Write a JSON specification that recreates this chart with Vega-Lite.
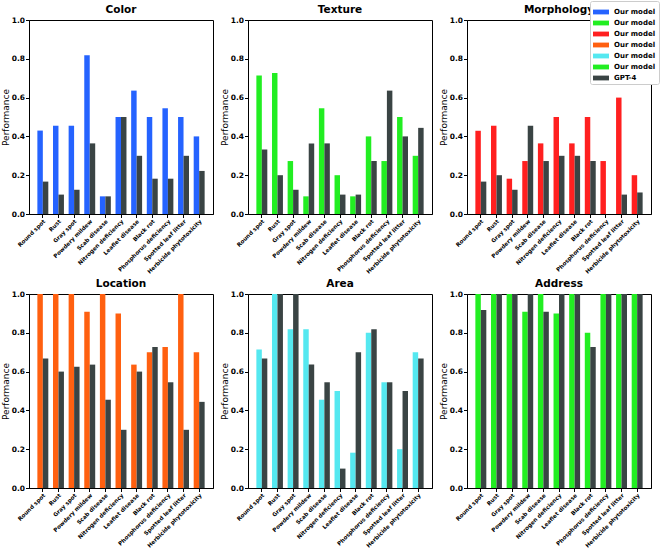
{
  "$schema": "https://vega.github.io/schema/vega-lite/v6.json",
  "padding": 0,
  "bounds": "flush",
  "columns": 3,
  "spacing": {"row": 80, "column": 35},
  "background": "white",
  "config": {
    "font": "DejaVu Sans",
    "view": {"stroke": "black", "strokeWidth": 1},
    "axis": {"grid": false, "domainColor": "black", "tickColor": "black", "labelColor": "black", "titleColor": "black", "labelFont": "DejaVu Sans", "titleFont": "DejaVu Sans", "labelFontWeight": "bold", "tickSize": 3.5},
    "axisX": {"labelAngle": -45, "labelAlign": "right", "labelBaseline": "top", "labelFontSize": 5.6, "labelLimit": 200, "labelOverlap": false, "labelPadding": 1},
    "axisY": {"values": [0, 0.2, 0.4, 0.6, 0.8, 1.0], "format": ".1f", "labelFontSize": 7.5, "labelPadding": 1, "titleFontSize": 9, "titleFontWeight": "normal", "titlePadding": 1},
    "title": {"font": "DejaVu Sans", "fontSize": 10.5, "fontWeight": "bold", "offset": 1, "color": "black"}
  },
  "data": {"values": [
    {"p":"Color","d":"Round spot","m":"Our model","s":"Color","v":0.43},
    {"p":"Color","d":"Round spot","m":"GPT-4","s":"GPT-4","v":0.167},
    {"p":"Color","d":"Rust","m":"Our model","s":"Color","v":0.455},
    {"p":"Color","d":"Rust","m":"GPT-4","s":"GPT-4","v":0.1},
    {"p":"Color","d":"Gray spot","m":"Our model","s":"Color","v":0.455},
    {"p":"Color","d":"Gray spot","m":"GPT-4","s":"GPT-4","v":0.125},
    {"p":"Color","d":"Powdery mildew","m":"Our model","s":"Color","v":0.818},
    {"p":"Color","d":"Powdery mildew","m":"GPT-4","s":"GPT-4","v":0.364},
    {"p":"Color","d":"Scab disease","m":"Our model","s":"Color","v":0.091},
    {"p":"Color","d":"Scab disease","m":"GPT-4","s":"GPT-4","v":0.091},
    {"p":"Color","d":"Nitrogen deficiency","m":"Our model","s":"Color","v":0.5},
    {"p":"Color","d":"Nitrogen deficiency","m":"GPT-4","s":"GPT-4","v":0.5},
    {"p":"Color","d":"Leaflet disease","m":"Our model","s":"Color","v":0.636},
    {"p":"Color","d":"Leaflet disease","m":"GPT-4","s":"GPT-4","v":0.3},
    {"p":"Color","d":"Black rot","m":"Our model","s":"Color","v":0.5},
    {"p":"Color","d":"Black rot","m":"GPT-4","s":"GPT-4","v":0.182},
    {"p":"Color","d":"Phosphorus deficiency","m":"Our model","s":"Color","v":0.545},
    {"p":"Color","d":"Phosphorus deficiency","m":"GPT-4","s":"GPT-4","v":0.182},
    {"p":"Color","d":"Spotted leaf litter","m":"Our model","s":"Color","v":0.5},
    {"p":"Color","d":"Spotted leaf litter","m":"GPT-4","s":"GPT-4","v":0.3},
    {"p":"Color","d":"Herbicide phytotoxicity","m":"Our model","s":"Color","v":0.4},
    {"p":"Color","d":"Herbicide phytotoxicity","m":"GPT-4","s":"GPT-4","v":0.222},

    {"p":"Texture","d":"Round spot","m":"Our model","s":"Texture","v":0.714},
    {"p":"Texture","d":"Round spot","m":"GPT-4","s":"GPT-4","v":0.333},
    {"p":"Texture","d":"Rust","m":"Our model","s":"Texture","v":0.727},
    {"p":"Texture","d":"Rust","m":"GPT-4","s":"GPT-4","v":0.2},
    {"p":"Texture","d":"Gray spot","m":"Our model","s":"Texture","v":0.273},
    {"p":"Texture","d":"Gray spot","m":"GPT-4","s":"GPT-4","v":0.125},
    {"p":"Texture","d":"Powdery mildew","m":"Our model","s":"Texture","v":0.091},
    {"p":"Texture","d":"Powdery mildew","m":"GPT-4","s":"GPT-4","v":0.364},
    {"p":"Texture","d":"Scab disease","m":"Our model","s":"Texture","v":0.545},
    {"p":"Texture","d":"Scab disease","m":"GPT-4","s":"GPT-4","v":0.364},
    {"p":"Texture","d":"Nitrogen deficiency","m":"Our model","s":"Texture","v":0.2},
    {"p":"Texture","d":"Nitrogen deficiency","m":"GPT-4","s":"GPT-4","v":0.1},
    {"p":"Texture","d":"Leaflet disease","m":"Our model","s":"Texture","v":0.091},
    {"p":"Texture","d":"Leaflet disease","m":"GPT-4","s":"GPT-4","v":0.1},
    {"p":"Texture","d":"Black rot","m":"Our model","s":"Texture","v":0.4},
    {"p":"Texture","d":"Black rot","m":"GPT-4","s":"GPT-4","v":0.273},
    {"p":"Texture","d":"Phosphorus deficiency","m":"Our model","s":"Texture","v":0.273},
    {"p":"Texture","d":"Phosphorus deficiency","m":"GPT-4","s":"GPT-4","v":0.636},
    {"p":"Texture","d":"Spotted leaf litter","m":"Our model","s":"Texture","v":0.5},
    {"p":"Texture","d":"Spotted leaf litter","m":"GPT-4","s":"GPT-4","v":0.4},
    {"p":"Texture","d":"Herbicide phytotoxicity","m":"Our model","s":"Texture","v":0.3},
    {"p":"Texture","d":"Herbicide phytotoxicity","m":"GPT-4","s":"GPT-4","v":0.444},

    {"p":"Morphology","d":"Round spot","m":"Our model","s":"Morphology","v":0.429},
    {"p":"Morphology","d":"Round spot","m":"GPT-4","s":"GPT-4","v":0.167},
    {"p":"Morphology","d":"Rust","m":"Our model","s":"Morphology","v":0.455},
    {"p":"Morphology","d":"Rust","m":"GPT-4","s":"GPT-4","v":0.2},
    {"p":"Morphology","d":"Gray spot","m":"Our model","s":"Morphology","v":0.182},
    {"p":"Morphology","d":"Gray spot","m":"GPT-4","s":"GPT-4","v":0.125},
    {"p":"Morphology","d":"Powdery mildew","m":"Our model","s":"Morphology","v":0.273},
    {"p":"Morphology","d":"Powdery mildew","m":"GPT-4","s":"GPT-4","v":0.455},
    {"p":"Morphology","d":"Scab disease","m":"Our model","s":"Morphology","v":0.364},
    {"p":"Morphology","d":"Scab disease","m":"GPT-4","s":"GPT-4","v":0.273},
    {"p":"Morphology","d":"Nitrogen deficiency","m":"Our model","s":"Morphology","v":0.5},
    {"p":"Morphology","d":"Nitrogen deficiency","m":"GPT-4","s":"GPT-4","v":0.3},
    {"p":"Morphology","d":"Leaflet disease","m":"Our model","s":"Morphology","v":0.364},
    {"p":"Morphology","d":"Leaflet disease","m":"GPT-4","s":"GPT-4","v":0.3},
    {"p":"Morphology","d":"Black rot","m":"Our model","s":"Morphology","v":0.5},
    {"p":"Morphology","d":"Black rot","m":"GPT-4","s":"GPT-4","v":0.273},
    {"p":"Morphology","d":"Phosphorus deficiency","m":"Our model","s":"Morphology","v":0.273},
    {"p":"Morphology","d":"Phosphorus deficiency","m":"GPT-4","s":"GPT-4","v":0},
    {"p":"Morphology","d":"Spotted leaf litter","m":"Our model","s":"Morphology","v":0.6},
    {"p":"Morphology","d":"Spotted leaf litter","m":"GPT-4","s":"GPT-4","v":0.1},
    {"p":"Morphology","d":"Herbicide phytotoxicity","m":"Our model","s":"Morphology","v":0.2},
    {"p":"Morphology","d":"Herbicide phytotoxicity","m":"GPT-4","s":"GPT-4","v":0.111},

    {"p":"Location","d":"Round spot","m":"Our model","s":"Location","v":1.0},
    {"p":"Location","d":"Round spot","m":"GPT-4","s":"GPT-4","v":0.667},
    {"p":"Location","d":"Rust","m":"Our model","s":"Location","v":1.0},
    {"p":"Location","d":"Rust","m":"GPT-4","s":"GPT-4","v":0.6},
    {"p":"Location","d":"Gray spot","m":"Our model","s":"Location","v":1.0},
    {"p":"Location","d":"Gray spot","m":"GPT-4","s":"GPT-4","v":0.625},
    {"p":"Location","d":"Powdery mildew","m":"Our model","s":"Location","v":0.909},
    {"p":"Location","d":"Powdery mildew","m":"GPT-4","s":"GPT-4","v":0.636},
    {"p":"Location","d":"Scab disease","m":"Our model","s":"Location","v":1.0},
    {"p":"Location","d":"Scab disease","m":"GPT-4","s":"GPT-4","v":0.455},
    {"p":"Location","d":"Nitrogen deficiency","m":"Our model","s":"Location","v":0.9},
    {"p":"Location","d":"Nitrogen deficiency","m":"GPT-4","s":"GPT-4","v":0.3},
    {"p":"Location","d":"Leaflet disease","m":"Our model","s":"Location","v":0.636},
    {"p":"Location","d":"Leaflet disease","m":"GPT-4","s":"GPT-4","v":0.6},
    {"p":"Location","d":"Black rot","m":"Our model","s":"Location","v":0.7},
    {"p":"Location","d":"Black rot","m":"GPT-4","s":"GPT-4","v":0.727},
    {"p":"Location","d":"Phosphorus deficiency","m":"Our model","s":"Location","v":0.727},
    {"p":"Location","d":"Phosphorus deficiency","m":"GPT-4","s":"GPT-4","v":0.545},
    {"p":"Location","d":"Spotted leaf litter","m":"Our model","s":"Location","v":1.0},
    {"p":"Location","d":"Spotted leaf litter","m":"GPT-4","s":"GPT-4","v":0.3},
    {"p":"Location","d":"Herbicide phytotoxicity","m":"Our model","s":"Location","v":0.7},
    {"p":"Location","d":"Herbicide phytotoxicity","m":"GPT-4","s":"GPT-4","v":0.444},

    {"p":"Area","d":"Round spot","m":"Our model","s":"Area","v":0.714},
    {"p":"Area","d":"Round spot","m":"GPT-4","s":"GPT-4","v":0.667},
    {"p":"Area","d":"Rust","m":"Our model","s":"Area","v":1.0},
    {"p":"Area","d":"Rust","m":"GPT-4","s":"GPT-4","v":1.0},
    {"p":"Area","d":"Gray spot","m":"Our model","s":"Area","v":0.818},
    {"p":"Area","d":"Gray spot","m":"GPT-4","s":"GPT-4","v":1.0},
    {"p":"Area","d":"Powdery mildew","m":"Our model","s":"Area","v":0.818},
    {"p":"Area","d":"Powdery mildew","m":"GPT-4","s":"GPT-4","v":0.636},
    {"p":"Area","d":"Scab disease","m":"Our model","s":"Area","v":0.455},
    {"p":"Area","d":"Scab disease","m":"GPT-4","s":"GPT-4","v":0.545},
    {"p":"Area","d":"Nitrogen deficiency","m":"Our model","s":"Area","v":0.5},
    {"p":"Area","d":"Nitrogen deficiency","m":"GPT-4","s":"GPT-4","v":0.1},
    {"p":"Area","d":"Leaflet disease","m":"Our model","s":"Area","v":0.182},
    {"p":"Area","d":"Leaflet disease","m":"GPT-4","s":"GPT-4","v":0.7},
    {"p":"Area","d":"Black rot","m":"Our model","s":"Area","v":0.8},
    {"p":"Area","d":"Black rot","m":"GPT-4","s":"GPT-4","v":0.818},
    {"p":"Area","d":"Phosphorus deficiency","m":"Our model","s":"Area","v":0.545},
    {"p":"Area","d":"Phosphorus deficiency","m":"GPT-4","s":"GPT-4","v":0.545},
    {"p":"Area","d":"Spotted leaf litter","m":"Our model","s":"Area","v":0.2},
    {"p":"Area","d":"Spotted leaf litter","m":"GPT-4","s":"GPT-4","v":0.5},
    {"p":"Area","d":"Herbicide phytotoxicity","m":"Our model","s":"Area","v":0.7},
    {"p":"Area","d":"Herbicide phytotoxicity","m":"GPT-4","s":"GPT-4","v":0.667},

    {"p":"Address","d":"Round spot","m":"Our model","s":"Address","v":1.0},
    {"p":"Address","d":"Round spot","m":"GPT-4","s":"GPT-4","v":0.917},
    {"p":"Address","d":"Rust","m":"Our model","s":"Address","v":1.0},
    {"p":"Address","d":"Rust","m":"GPT-4","s":"GPT-4","v":1.0},
    {"p":"Address","d":"Gray spot","m":"Our model","s":"Address","v":1.0},
    {"p":"Address","d":"Gray spot","m":"GPT-4","s":"GPT-4","v":1.0},
    {"p":"Address","d":"Powdery mildew","m":"Our model","s":"Address","v":0.909},
    {"p":"Address","d":"Powdery mildew","m":"GPT-4","s":"GPT-4","v":1.0},
    {"p":"Address","d":"Scab disease","m":"Our model","s":"Address","v":1.0},
    {"p":"Address","d":"Scab disease","m":"GPT-4","s":"GPT-4","v":0.909},
    {"p":"Address","d":"Nitrogen deficiency","m":"Our model","s":"Address","v":0.9},
    {"p":"Address","d":"Nitrogen deficiency","m":"GPT-4","s":"GPT-4","v":1.0},
    {"p":"Address","d":"Leaflet disease","m":"Our model","s":"Address","v":1.0},
    {"p":"Address","d":"Leaflet disease","m":"GPT-4","s":"GPT-4","v":1.0},
    {"p":"Address","d":"Black rot","m":"Our model","s":"Address","v":0.8},
    {"p":"Address","d":"Black rot","m":"GPT-4","s":"GPT-4","v":0.727},
    {"p":"Address","d":"Phosphorus deficiency","m":"Our model","s":"Address","v":1.0},
    {"p":"Address","d":"Phosphorus deficiency","m":"GPT-4","s":"GPT-4","v":1.0},
    {"p":"Address","d":"Spotted leaf litter","m":"Our model","s":"Address","v":1.0},
    {"p":"Address","d":"Spotted leaf litter","m":"GPT-4","s":"GPT-4","v":1.0},
    {"p":"Address","d":"Herbicide phytotoxicity","m":"Our model","s":"Address","v":1.0},
    {"p":"Address","d":"Herbicide phytotoxicity","m":"GPT-4","s":"GPT-4","v":1.0}
  ]},
  "concat": [
      {"title": "Color", "width": 184, "height": 194, "transform": [{"filter": "datum.p == 'Color'"}], "mark": {"type": "bar"},
       "encoding": {
        "x": {"field": "d", "type": "nominal", "sort": null, "title": null, "scale": {"paddingInner": 0.3, "paddingOuter": 0.535}},
        "xOffset": {"field": "m", "type": "nominal", "sort": ["Our model", "GPT-4"], "scale": {"paddingInner": 0, "paddingOuter": 0}},
        "y": {"field": "v", "type": "quantitative", "title": "Performance", "scale": {"domain": [0, 1], "nice": false}},
        "color": {"field": "s", "type": "nominal", "scale": {"domain": ["Color", "Texture", "Morphology", "Location", "Area", "Address", "GPT-4"], "range": ["#2563ff", "#22ee22", "#ff2020", "#ff6010", "#55e8f0", "#22ee22", "#3a4444"]},
          "legend": {"title": null, "orient": "none", "legendX": 561, "legendY": -19, "labelExpr": "datum.label == 'GPT-4' ? 'GPT-4' : 'Our model'", "symbolType": "M-1,-0.3H1V0.3H-1Z", "symbolSize": 256, "symbolStrokeWidth": 0, "labelFontSize": 7, "labelFontWeight": "bold", "labelFont": "DejaVu Sans", "labelColor": "black", "strokeColor": "#cccccc", "fillColor": "white", "padding": 3, "cornerRadius": 2, "rowPadding": 0, "labelOffset": 5}}
       }},
      {"title": "Texture", "width": 184, "height": 194, "transform": [{"filter": "datum.p == 'Texture'"}], "mark": {"type": "bar"},
       "encoding": {
        "x": {"field": "d", "type": "nominal", "sort": null, "title": null, "scale": {"paddingInner": 0.3, "paddingOuter": 0.535}},
        "xOffset": {"field": "m", "type": "nominal", "sort": ["Our model", "GPT-4"], "scale": {"paddingInner": 0, "paddingOuter": 0}},
        "y": {"field": "v", "type": "quantitative", "title": "Performance", "scale": {"domain": [0, 1], "nice": false}},
        "color": {"field": "s", "type": "nominal"}
       }},
      {"title": "Morphology", "width": 184, "height": 194, "transform": [{"filter": "datum.p == 'Morphology'"}], "mark": {"type": "bar"},
       "encoding": {
        "x": {"field": "d", "type": "nominal", "sort": null, "title": null, "scale": {"paddingInner": 0.3, "paddingOuter": 0.535}},
        "xOffset": {"field": "m", "type": "nominal", "sort": ["Our model", "GPT-4"], "scale": {"paddingInner": 0, "paddingOuter": 0}},
        "y": {"field": "v", "type": "quantitative", "title": "Performance", "scale": {"domain": [0, 1], "nice": false}},
        "color": {"field": "s", "type": "nominal"}
       }},
      {"title": "Location", "width": 184, "height": 194, "transform": [{"filter": "datum.p == 'Location'"}], "mark": {"type": "bar"},
       "encoding": {
        "x": {"field": "d", "type": "nominal", "sort": null, "title": null, "scale": {"paddingInner": 0.3, "paddingOuter": 0.535}},
        "xOffset": {"field": "m", "type": "nominal", "sort": ["Our model", "GPT-4"], "scale": {"paddingInner": 0, "paddingOuter": 0}},
        "y": {"field": "v", "type": "quantitative", "title": "Performance", "scale": {"domain": [0, 1], "nice": false}},
        "color": {"field": "s", "type": "nominal"}
       }},
      {"title": "Area", "width": 184, "height": 194, "transform": [{"filter": "datum.p == 'Area'"}], "mark": {"type": "bar"},
       "encoding": {
        "x": {"field": "d", "type": "nominal", "sort": null, "title": null, "scale": {"paddingInner": 0.3, "paddingOuter": 0.535}},
        "xOffset": {"field": "m", "type": "nominal", "sort": ["Our model", "GPT-4"], "scale": {"paddingInner": 0, "paddingOuter": 0}},
        "y": {"field": "v", "type": "quantitative", "title": "Performance", "scale": {"domain": [0, 1], "nice": false}},
        "color": {"field": "s", "type": "nominal"}
       }},
      {"title": "Address", "width": 184, "height": 194, "transform": [{"filter": "datum.p == 'Address'"}], "mark": {"type": "bar"},
       "encoding": {
        "x": {"field": "d", "type": "nominal", "sort": null, "title": null, "scale": {"paddingInner": 0.3, "paddingOuter": 0.535}},
        "xOffset": {"field": "m", "type": "nominal", "sort": ["Our model", "GPT-4"], "scale": {"paddingInner": 0, "paddingOuter": 0}},
        "y": {"field": "v", "type": "quantitative", "title": "Performance", "scale": {"domain": [0, 1], "nice": false}},
        "color": {"field": "s", "type": "nominal"}
       }}
  ]
}
